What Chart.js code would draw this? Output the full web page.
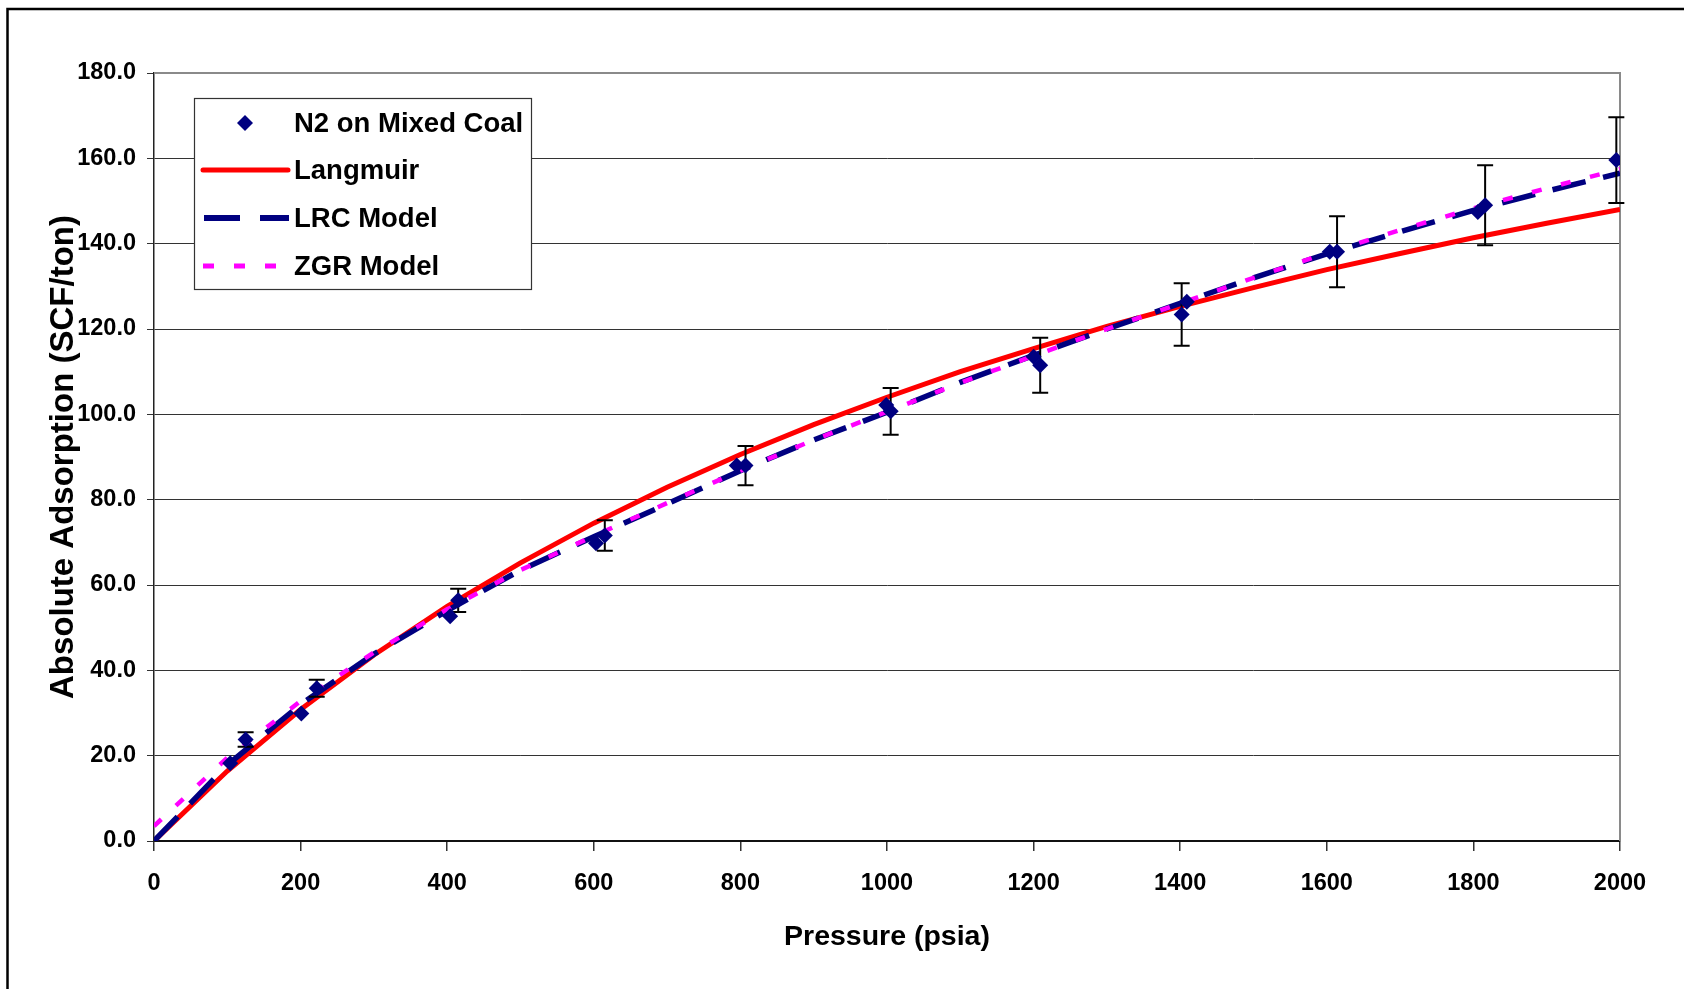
<!DOCTYPE html>
<html>
<head>
<meta charset="utf-8">
<script src="https://cdn.jsdelivr.net/npm/chart.js@4.4.1/dist/chart.umd.min.js"></script>
<style>
  html, body { margin: 0; padding: 0; background: #fff; }
  #wrap { width: 1684px; height: 989px; }
</style>
</head>
<body>
<div id="wrap"><canvas id="c" width="1684" height="989"></canvas></div>
<script>
// ---- Data ----
const measuredP = [104, 125, 201, 222, 404, 415, 603, 615, 795, 807, 999, 1005, 1200, 1209, 1402, 1409, 1604, 1614, 1806, 1816, 1995];
const measuredV = [18.2, 23.8, 29.9, 35.8, 52.7, 56.4, 69.8, 71.6, 88.0, 88.0, 102.2, 100.7, 113.5, 111.5, 123.4, 126.4, 138.1, 138.1, 147.4, 149.0, 159.6];
const measuredErr = [0, 1.7, 0, 2.0, 0, 2.7, 0, 3.6, 0, 4.6, 0, 5.5, 0, 6.45, 7.35, 0, 0, 8.3, 0, 9.4, 10.05];

const modelP = [0, 100, 200, 300, 400, 500, 600, 700, 800, 900, 1000, 1100, 1200, 1300, 1400, 1500, 1600, 1700, 1800, 1900, 2000];
const langmuirV = [0, 16.4, 30.8, 43.6, 55.0, 65.2, 74.5, 82.9, 90.6, 97.6, 104.0, 110.0, 115.4, 120.6, 125.3, 129.7, 133.9, 137.7, 141.4, 144.8, 148.0];
const lrcV = [0, 17.8, 32.0, 43.8, 54.0, 63.5, 71.3, 79.0, 86.8, 94.0, 100.5, 107.5, 113.8, 120.0, 126.0, 132.0, 137.6, 142.8, 147.8, 152.3, 156.5];
const zgrV = [3.5, 19.5, 32.8, 44.2, 54.3, 63.5, 71.5, 79.2, 86.8, 94.0, 100.6, 107.4, 113.7, 120.0, 126.0, 132.0, 137.8, 143.2, 148.3, 153.0, 157.5];

const xTicks = [0, 200, 400, 600, 800, 1000, 1200, 1400, 1600, 1800, 2000];
const yTicks = [0, 20, 40, 60, 80, 100, 120, 140, 160, 180];

const seriesNames = ['N2 on Mixed Coal', 'Langmuir', 'LRC Model', 'ZGR Model'];
const xTitle = 'Pressure (psia)';
const yTitle = 'Absolute Adsorption (SCF/ton)';

// ---- Styles ----
const FONT = "'Liberation Sans', Arial, sans-serif";
const NAVY = '#000080';
const RED = '#ff0000';
const MAGENTA = '#ff00ff';
const LRC_DASH = [34, 18];
const ZGR_DASH = [10, 20];

const pts = (xs, ys) => xs.map((x, i) => ({ x: x, y: ys[i] }));

const backgroundPlugin = {
  id: 'bgFrame',
  beforeDraw(chart) {
    const ctx = chart.ctx;
    ctx.save();
    ctx.fillStyle = '#fff';
    ctx.fillRect(0, 0, chart.width, chart.height);
    ctx.strokeStyle = '#000';
    ctx.lineWidth = 2.5;
    ctx.beginPath();
    ctx.moveTo(7.5, chart.height + 5);
    ctx.lineTo(7.5, 9);
    ctx.lineTo(chart.width + 5, 9);
    ctx.stroke();
    ctx.restore();
  },
  beforeDatasetsDraw(chart) {
    const ctx = chart.ctx, a = chart.chartArea;
    ctx.save();
    ctx.strokeStyle = '#8a8a8a';
    ctx.lineWidth = 2;
    ctx.beginPath();
    ctx.moveTo(a.left, a.top);
    ctx.lineTo(a.right, a.top);
    ctx.lineTo(a.right, a.bottom);
    ctx.stroke();
    ctx.restore();
  }
};

const errorBarPlugin = {
  id: 'errorBars',
  beforeDatasetDraw(chart, args) {
    if (args.index !== 0) return;
    const ctx = chart.ctx;
    const xs = chart.scales.x, ys = chart.scales.y;
    ctx.save();
    ctx.strokeStyle = '#000';
    ctx.lineWidth = 2;
    measuredP.forEach((p, i) => {
      const e = measuredErr[i];
      if (!e) return;
      const px = xs.getPixelForValue(p);
      const yTop = ys.getPixelForValue(measuredV[i] + e);
      const yBot = ys.getPixelForValue(measuredV[i] - e);
      ctx.beginPath();
      ctx.moveTo(px, yTop); ctx.lineTo(px, yBot);
      ctx.moveTo(px - 8, yTop); ctx.lineTo(px + 8, yTop);
      ctx.moveTo(px - 8, yBot); ctx.lineTo(px + 8, yBot);
      ctx.stroke();
    });
    ctx.restore();
  }
};

const legendPlugin = {
  id: 'boxLegend',
  afterDraw(chart) {
    const ctx = chart.ctx;
    ctx.save();
    const bx = 194.5, by = 98.5, bw = 337, bh = 191;
    ctx.fillStyle = '#fff';
    ctx.fillRect(bx, by, bw, bh);
    ctx.strokeStyle = '#333';
    ctx.lineWidth = 1.2;
    ctx.strokeRect(bx, by, bw, bh);
    const rows = [123, 170, 218, 266];
    const x0 = 203, x1 = 289;
    // diamond
    ctx.fillStyle = NAVY;
    ctx.beginPath();
    const dx = 245, dy = rows[0], r = 8;
    ctx.moveTo(dx, dy - r); ctx.lineTo(dx + r, dy); ctx.lineTo(dx, dy + r); ctx.lineTo(dx - r, dy);
    ctx.closePath(); ctx.fill();
    // Langmuir
    ctx.lineCap = 'round';
    ctx.strokeStyle = RED; ctx.lineWidth = 5;
    ctx.beginPath(); ctx.moveTo(x0, rows[1]); ctx.lineTo(x1 - 1, rows[1]); ctx.stroke();
    ctx.lineCap = 'butt';
    // LRC
    ctx.strokeStyle = NAVY; ctx.lineWidth = 6;
    ctx.setLineDash([36, 20]);
    ctx.beginPath(); ctx.moveTo(x0 + 1, rows[2]); ctx.lineTo(x1, rows[2]); ctx.stroke();
    // ZGR
    ctx.strokeStyle = MAGENTA; ctx.lineWidth = 5;
    ctx.setLineDash([11, 20]);
    ctx.beginPath(); ctx.moveTo(x0, rows[3]); ctx.lineTo(x1, rows[3]); ctx.stroke();
    ctx.setLineDash([]);
    ctx.fillStyle = '#000';
    ctx.font = 'bold 27.5px ' + FONT;
    ctx.textBaseline = 'middle';
    ctx.textAlign = 'left';
    seriesNames.forEach((n, i) => ctx.fillText(n, 294, rows[i] + 1));
    ctx.restore();
  }
};

new Chart(document.getElementById('c'), {
  type: 'scatter',
  data: {
    datasets: [
      {
        label: seriesNames[0],
        data: pts(measuredP, measuredV),
        pointStyle: 'rectRot',
        pointRadius: 8,
        pointHoverRadius: 8,
        backgroundColor: NAVY,
        borderColor: NAVY,
        borderWidth: 0,
        showLine: false,
        order: 0
      },
      {
        label: seriesNames[1],
        data: pts(modelP, langmuirV),
        showLine: true,
        borderColor: RED,
        borderWidth: 5,
        pointRadius: 0,
        fill: false,
        tension: 0,
        order: 3
      },
      {
        label: seriesNames[2],
        data: pts(modelP, lrcV),
        showLine: true,
        borderColor: NAVY,
        borderWidth: 5.5,
        borderDash: LRC_DASH,
        pointRadius: 0,
        fill: false,
        tension: 0,
        order: 2
      },
      {
        label: seriesNames[3],
        data: pts(modelP, zgrV),
        showLine: true,
        borderColor: MAGENTA,
        borderWidth: 4.5,
        borderDash: ZGR_DASH,
        pointRadius: 0,
        fill: false,
        tension: 0,
        order: 1
      }
    ]
  },
  options: {
    responsive: false,
    animation: false,
    devicePixelRatio: 1,
    layout: { padding: { top: 73, right: 64, left: 0, bottom: 0 } },
    plugins: {
      legend: { display: false },
      tooltip: { enabled: false }
    },
    scales: {
      x: {
        type: 'linear',
        min: 0, max: 2000,
        afterBuildTicks(s) { s.ticks = xTicks.map(v => ({ value: v })); },
        afterFit(s) { s.height = 148; },
        grid: { drawOnChartArea: false, drawTicks: true, tickLength: 10, color: '#333', lineWidth: 1.5 },
        border: { display: true, color: '#111', width: 2 },
        ticks: {
          padding: 18,
          color: '#000',
          font: { family: FONT, size: 23.5, weight: 'bold' },
          maxRotation: 0,
          callback: v => String(v)
        },
        title: {
          display: true,
          text: xTitle,
          color: '#000',
          font: { family: FONT, size: 28.5, weight: 'bold' },
          padding: { top: 0, bottom: 35 }
        }
      },
      y: {
        type: 'linear',
        min: 0, max: 180,
        afterBuildTicks(s) { s.ticks = yTicks.map(v => ({ value: v })); },
        afterFit(s) { s.width = 154; },
        grid: { drawOnChartArea: true, drawTicks: true, tickLength: 7, color: '#333', lineWidth: 1 },
        border: { display: true, color: '#222', width: 1.5 },
        ticks: {
          padding: 11,
          color: '#000',
          font: { family: FONT, size: 23.5, weight: 'bold' },
          callback: v => Number(v).toFixed(1)
        },
        title: {
          display: true,
          text: yTitle,
          color: '#000',
          font: { family: FONT, size: 33, weight: 'bold' },
          padding: { top: 44, bottom: 0 }
        }
      }
    }
  },
  plugins: [backgroundPlugin, errorBarPlugin, legendPlugin]
});
</script>
</body>
</html>
